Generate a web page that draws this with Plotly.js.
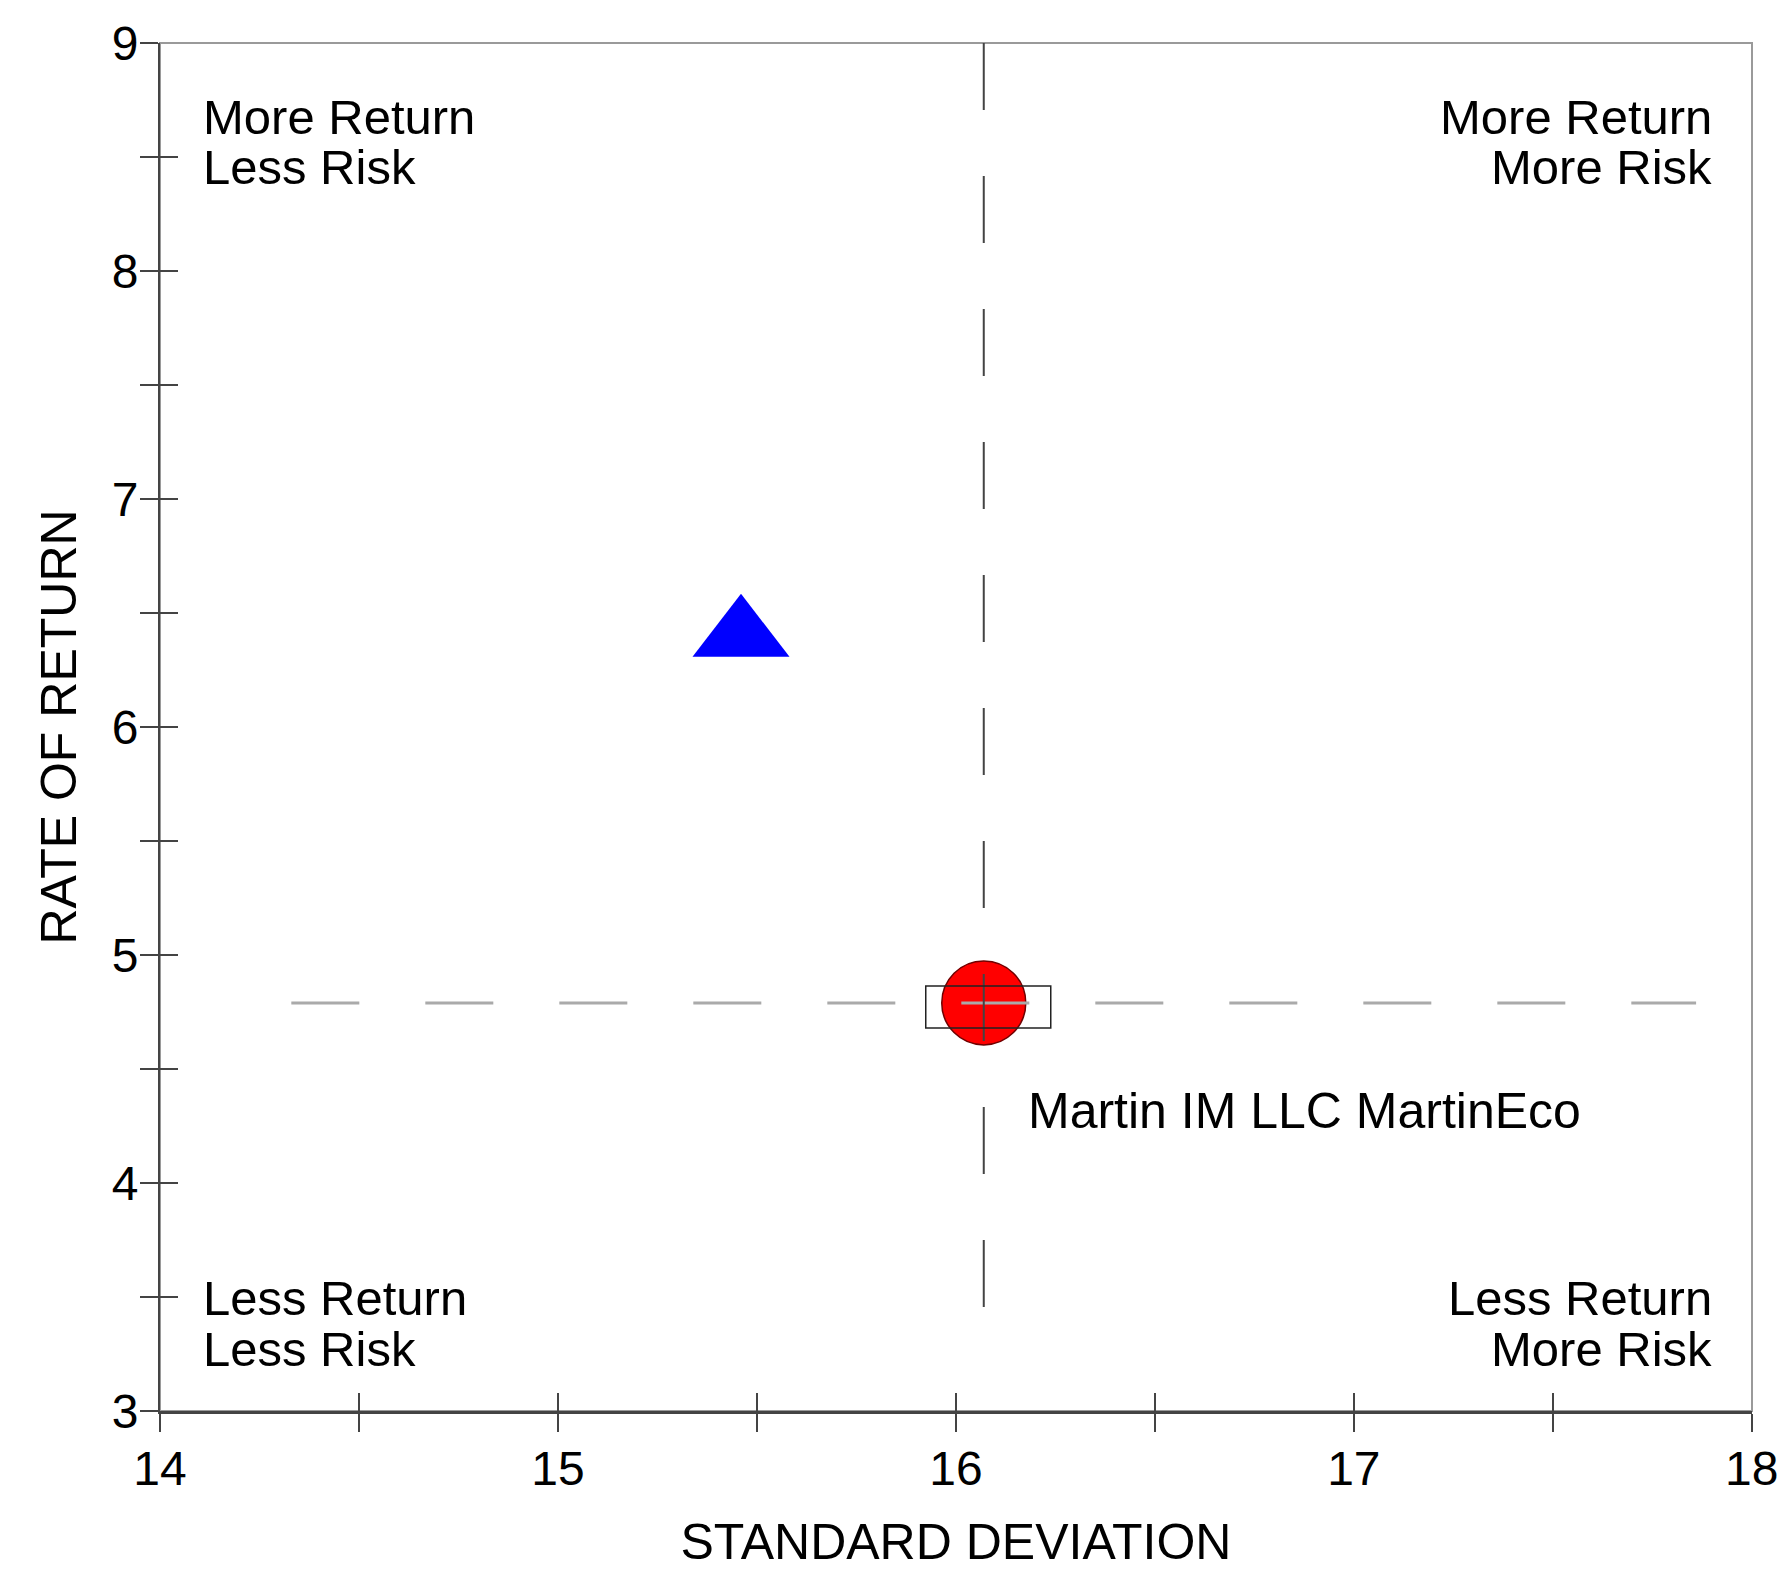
<!DOCTYPE html>
<html>
<head>
<meta charset="utf-8">
<script src="https://cdn.plot.ly/plotly-3.0.1.min.js"></script>
<style>
  html, body { margin: 0; padding: 0; background: #fff; }
  #chart { width: 1777px; height: 1570px; }
</style>
</head>
<body>
<div id="chart"></div>
<script>
// ---- data ----
const seriesNames = ['Benchmark', 'Martin IM LLC MartinEco'];
const stdDev = [15.46, 16.07];          // x: standard deviation
const rateOfReturn = [6.40, 4.79];      // y: rate of return
const xTickVals = [14, 15, 16, 17, 18];
const yTickVals = [3, 4, 5, 6, 7, 8, 9];
const xRange = [14, 18.0005];
const yRange = [3, 9];
const hLineX = [14.33, 17.86];          // extent of horizontal reference line
const vLineY = [9, 3.45];               // extent of vertical reference line
const quadrantTop = ['More Return', 'Less Risk', 'More Return', 'More Risk'];
const quadrantBottom = ['Less Return', 'Less Risk', 'Less Return', 'More Risk'];

const FONT = 'Liberation Sans, Arial, sans-serif';
const AX_COLOR = '#444';

const traces = [
  {
    type: 'scatter', mode: 'markers', name: seriesNames[0],
    x: [stdDev[0]], y: [rateOfReturn[0]],
    marker: { symbol: 'triangle-up', size: 84, color: '#0000ff', line: { width: 0 } },
    showlegend: false, hoverinfo: 'skip'
  },
  {
    type: 'scatter', mode: 'markers', name: seriesNames[1],
    x: [stdDev[1]], y: [rateOfReturn[1]],
    marker: { symbol: 'circle', size: 84, color: '#ff0000', line: { width: 1.5, color: '#700000' } },
    showlegend: false, hoverinfo: 'skip'
  },
  {
    type: 'scatter', mode: 'lines', name: 'h-ref',
    x: hLineX, y: [rateOfReturn[1], rateOfReturn[1]],
    line: { color: '#aaaaaa', width: 3, dash: '68px,66px' },
    showlegend: false, hoverinfo: 'skip'
  },
  {
    type: 'scatter', mode: 'lines', name: 'v-ref',
    x: [stdDev[1], stdDev[1]], y: vLineY,
    line: { color: '#444444', width: 2, dash: '67px,66px' },
    showlegend: false, hoverinfo: 'skip'
  },
  {
    type: 'scatter', mode: 'markers', x: [], y: [], xaxis: 'x2', yaxis: 'y2',
    showlegend: false, hoverinfo: 'skip'
  }
];

const tickCommon = { ticklen: 18, tickwidth: 1.5, tickcolor: AX_COLOR };

const annotations = [];
function quad(lines, xPaper, yPapers, xanchor) {
  lines.forEach((t, i) => {
    annotations.push({
      xref: 'paper', yref: 'paper', x: xPaper, y: yPapers[i],
      xanchor: xanchor, yanchor: 'middle', showarrow: false, text: t,
      font: { family: FONT, size: 49, color: '#000' }
    });
  });
}
quad(quadrantTop.slice(0, 2), 0.0255, [0.946, 0.909], 'left');
quad(quadrantTop.slice(2, 4), 0.976, [0.946, 0.909], 'right');
quad(quadrantBottom.slice(0, 2), 0.0255, [0.0825, 0.045], 'left');
quad(quadrantBottom.slice(2, 4), 0.976, [0.0825, 0.045], 'right');

annotations.push({
  xref: 'x', yref: 'y', x: stdDev[1], y: rateOfReturn[1],
  xanchor: 'left', yanchor: 'middle', xshift: 42, yshift: -108,
  showarrow: false, text: seriesNames[1],
  font: { family: FONT, size: 50, color: '#000' }
});

const layout = {
  width: 1777, height: 1570,
  margin: { l: 160, r: 25, t: 43, b: 159, pad: 0 },
  paper_bgcolor: '#fff', plot_bgcolor: '#fff',
  showlegend: false,
  font: { family: FONT, color: '#000' },
  xaxis: Object.assign({
    range: xRange, tickvals: xTickVals, ticktext: xTickVals.map(String),
    ticks: 'outside', showgrid: false, zeroline: false,
    showline: true, linecolor: AX_COLOR, linewidth: 2.5,
    tickfont: { family: FONT, size: 48, color: '#000' },
    ticklabelstandoff: -4, ticklabeloverflow: 'allow',
    minor: { dtick: 0.5, tick0: 14, ticks: 'outside', ticklen: 18, tickwidth: 1.5, tickcolor: AX_COLOR, showgrid: false },
    title: { text: 'STANDARD DEVIATION', font: { family: FONT, size: 50, color: '#000' }, standoff: 38 },
    fixedrange: true
  }, tickCommon),
  yaxis: Object.assign({
    range: yRange, tickvals: yTickVals, ticktext: yTickVals.map(String),
    ticks: 'outside', showgrid: false, zeroline: false,
    showline: true, linecolor: AX_COLOR, linewidth: 2,
    tickfont: { family: FONT, size: 48, color: '#000' },
    ticklabelstandoff: -8,
    minor: { dtick: 0.5, tick0: 3, ticks: 'outside', ticklen: 18, tickwidth: 1.5, tickcolor: AX_COLOR, showgrid: false },
    title: { text: 'RATE OF RETURN', font: { family: FONT, size: 50, color: '#000' }, standoff: 19 },
    fixedrange: true
  }, tickCommon),
  xaxis2: Object.assign({
    overlaying: 'x', anchor: 'y2', side: 'bottom', range: xRange, tickvals: xTickVals,
    ticks: 'inside', showticklabels: false, showgrid: false, zeroline: false, showline: false,
    minor: { dtick: 0.5, tick0: 14, ticks: 'inside', ticklen: 18, tickwidth: 1.5, tickcolor: AX_COLOR, showgrid: false },
    fixedrange: true
  }, tickCommon),
  yaxis2: Object.assign({
    overlaying: 'y', anchor: 'x2', side: 'left', range: yRange, tickvals: yTickVals,
    ticks: 'inside', showticklabels: false, showgrid: false, zeroline: false, showline: false,
    minor: { dtick: 0.5, tick0: 3, ticks: 'inside', ticklen: 18, tickwidth: 1.5, tickcolor: AX_COLOR, showgrid: false },
    fixedrange: true
  }, tickCommon),
  shapes: [
    {
      type: 'rect', xref: 'paper', yref: 'paper', x0: 0, x1: 1, y0: 0, y1: 1,
      line: { color: '#9a9a9a', width: 2 }, layer: 'below'
    },
    {
      type: 'rect', xref: 'x', yref: 'y',
      xsizemode: 'pixel', ysizemode: 'pixel',
      xanchor: stdDev[1], yanchor: rateOfReturn[1],
      x0: -58, x1: 67, y0: -25, y1: 17,
      line: { color: '#222', width: 1.5 }, layer: 'above'
    }
  ],
  annotations: annotations
};

Plotly.newPlot('chart', traces, layout, { displayModeBar: false, staticPlot: true });
</script>
</body>
</html>
